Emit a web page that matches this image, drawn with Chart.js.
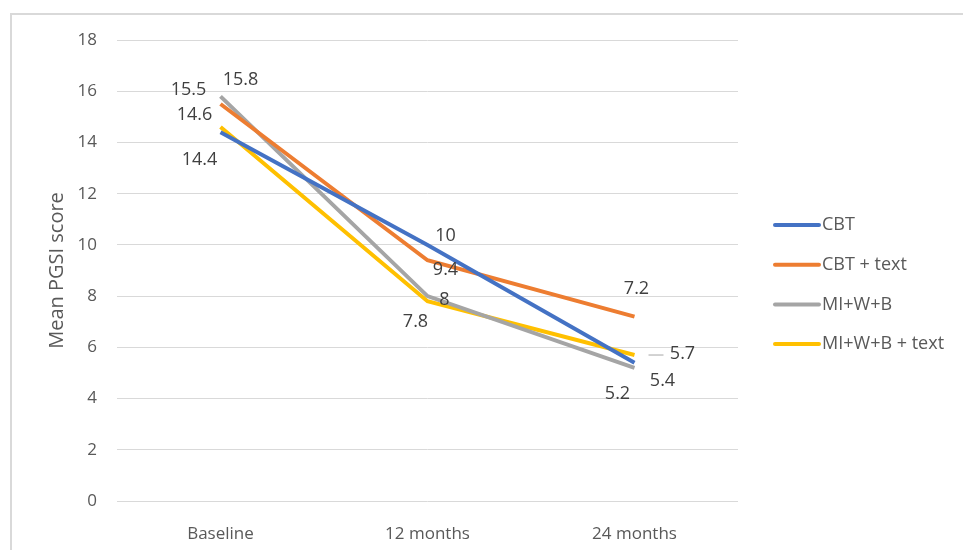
<!DOCTYPE html>
<html>
<head>
<meta charset="utf-8">
<script src="https://cdn.jsdelivr.net/npm/chart.js@4"></script>
<style>
  body { margin: 0; background: #fff; }
  #frame { position: absolute; left: 10px; top: 13px; width: 970px; height: 560px; border: 2px solid #d9d9d9; box-sizing: border-box; }
  #wrap { position: absolute; left: 0; top: 0; width: 963px; height: 550px; }
</style>
</head>
<body>
<div id="frame"></div>
<div id="wrap"><canvas id="chart"></canvas></div>
<script>
// data
const categories = ['Baseline', '12 months', '24 months'];
const seriesNames = ['CBT', 'CBT + text', 'MI+W+B', 'MI+W+B + text'];
const cbt = [14.4, 10, 5.4];
const cbtText = [15.5, 9.4, 7.2];
const miwb = [15.8, 8, 5.2];
const miwbText = [14.6, 7.8, 5.7];
const colors = ['#4472C4', '#ED7D31', '#A5A5A5', '#FFC000'];

// label offsets (dx, dy) from each point, per series
const labelOffsets = [
  [[-21, 28], [18, -9], [28, 18]],
  [[-32, -14], [18, 10], [2, -28]],
  [[20, -16], [17, 4], [-17, 26]],
  [[-26, -12], [-12, 21], [48, -1]]
];

const textColor = '#595959';
const font = '"Open Sans", "Noto Sans", sans-serif';

const ctx = document.getElementById('chart').getContext('2d');

const labelPlugin = {
  id: 'pointLabels',
  afterDatasetsDraw(chart) {
    const c = chart.ctx;
    c.save();
    c.font = '18px ' + font;
    c.fillStyle = '#404040';
    c.textAlign = 'center';
    c.textBaseline = 'middle';
    chart.data.datasets.forEach((ds, i) => {
      const meta = chart.getDatasetMeta(i);
      meta.data.forEach((pt, j) => {
        const off = labelOffsets[i][j];
        c.fillText(String(ds.data[j]), pt.x + off[0], pt.y + off[1]);
      });
    });
    // leader line for 5.7
    const p = chart.getDatasetMeta(3).data[2];
    c.strokeStyle = '#a6a6a6';
    c.lineWidth = 1;
    c.beginPath();
    c.moveTo(p.x + 14, p.y);
    c.lineTo(p.x + 29, p.y);
    c.stroke();
    c.restore();
  },
  afterDraw(chart) {
    const c = chart.ctx;
    c.save();
    c.font = '18px ' + font;
    c.fillStyle = textColor;
    c.textBaseline = 'middle';
    chart.data.datasets.forEach((ds, i) => {
      const y = 225 + i * 39.7;
      c.strokeStyle = ds.borderColor;
      c.lineWidth = 4;
      c.lineCap = 'round';
      c.beginPath();
      c.moveTo(775, y);
      c.lineTo(819, y);
      c.stroke();
      c.fillText(ds.label, 822, y);
    });
    c.restore();
  }
};

const series = [cbt, cbtText, miwb, miwbText];

new Chart(ctx, {
  type: 'line',
  data: {
    labels: categories,
    datasets: series.map((d, i) => ({
      label: seriesNames[i],
      data: d,
      borderColor: colors[i],
      backgroundColor: colors[i],
      borderWidth: 4,
      pointRadius: 0,
      tension: 0
    }))
  },
  options: {
    responsive: true,
    maintainAspectRatio: false,
    animation: false,
    layout: { padding: { left: 41, right: 225, top: 40, bottom: 0 } },
    plugins: {
      legend: { display: false },
      tooltip: { enabled: false }
    },
    scales: {
      x: {
        offset: true,
        grid: { display: false },
        border: { display: false },
        ticks: { color: textColor, font: { size: 17, family: font }, padding: 15 },
        afterFit(s) { s.height = 49; }
      },
      y: {
        min: 0,
        max: 18,
        ticks: { stepSize: 2, color: textColor, font: { size: 17, family: font }, padding: 20 },
        grid: { color: '#d9d9d9', lineWidth: 1, drawTicks: false },
        border: { display: false },
        title: { display: true, text: 'Mean PGSI score', color: textColor, font: { size: 20, family: font } },
        afterFit(s) { s.width = 76; }
      }
    }
  },
  plugins: [labelPlugin]
});
</script>
</body>
</html>
